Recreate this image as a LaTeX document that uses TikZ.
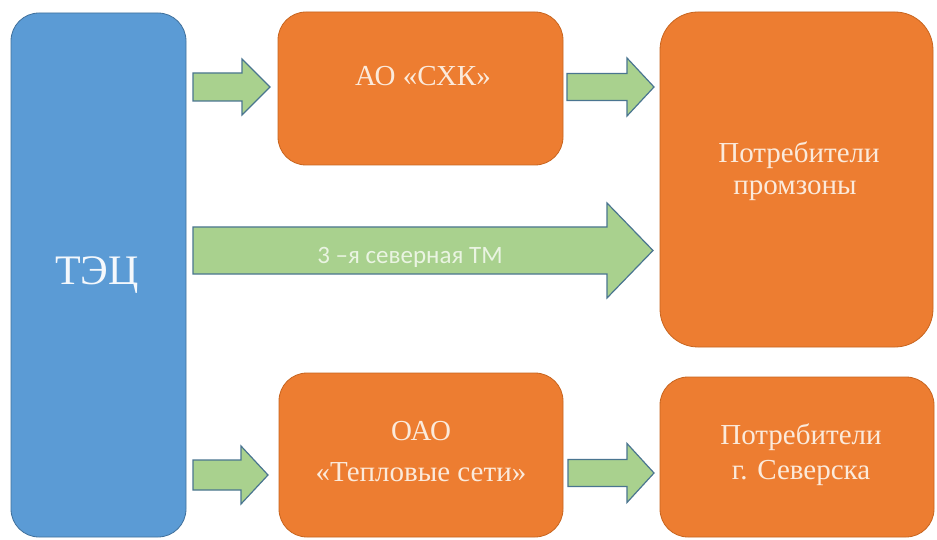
\documentclass[tikz,border=0pt]{standalone}
\usepackage{fontspec}
\setmainfont{Liberation Serif}
\newfontfamily\boxfont{Liberation Serif}
\newfontfamily\arrowfont{Carlito}
\definecolor{bluefill}{HTML}{5B9BD5}
\definecolor{bluedraw}{HTML}{41719C}
\definecolor{orfill}{HTML}{ED7D31}
\definecolor{ordraw}{HTML}{C8651F}
\definecolor{grfill}{HTML}{A9D18E}
\definecolor{grdraw}{HTML}{4A7590}
\definecolor{ortext}{HTML}{FBEADB}
\definecolor{bltext}{HTML}{F4F8FC}
\definecolor{grtext}{HTML}{EAF4E2}
\tikzset{
  boxblue/.style={fill=bluefill, draw=bluedraw, line width=0.8pt},
  boxorange/.style={fill=orfill, draw=ordraw, line width=0.8pt},
  garrowstyle/.style={fill=grfill, draw=grdraw, line width=1.2pt, line join=miter},
  otext/.style={text=ortext, font=\boxfont\fontsize{29}{29}\selectfont, inner sep=0pt, anchor=base},
  btext/.style={text=bltext, font=\boxfont\fontsize{42}{42}\selectfont, inner sep=0pt, anchor=base},
  atext/.style={text=grtext, font=\arrowfont\fontsize{25}{25}\selectfont, inner sep=0pt, anchor=base},
}
% \garrow{name}{x0}{x1}{xtip}{yc}{half shaft}{half head}
\newcommand\garrow[7]{%
  \draw[garrowstyle] (#2,#5-#6) coordinate (#1-start) -- (#3,#5-#6) -- (#3,#5-#7)
    -- (#4,#5) coordinate (#1-tip) -- (#3,#5+#7) -- (#3,#5+#6) -- (#2,#5+#6) -- cycle;}
\begin{document}
\begin{tikzpicture}[x=1pt,y=-1pt]
\useasboundingbox[fill=white] (0,0) rectangle (937,540);
% boxes
\draw[boxblue, rounded corners=28pt] (11,13) rectangle (186,537);
\draw[boxorange, rounded corners=28pt] (278,12) rectangle (563,165);
\draw[boxorange, rounded corners=38pt] (660,12) rectangle (933,347);
\draw[boxorange, rounded corners=28pt] (279,373) rectangle (563,537);
\draw[boxorange, rounded corners=28pt] (660,377) rectangle (934,537);
% texts
\node[btext] (tTEC) at (97,284) {ТЭЦ};
\node[otext] (tSXK) at (423,86) {АО «СХК»};
\node[otext] (tP1a) at (799,163) {Потребители};
\node[otext] (tP1b) at (795,195) {промзоны};
\node[otext] (tO1) at (421,440) {ОАО};
\node[otext] (tO2) at (421,481) {«Тепловые сети»};
\node[otext] (tP2a) at (801,444) {Потребители};
\node[otext] (tP2b) at (801,479) {г. Северска};
% arrows
\garrow{a1}{193}{242}{270}{87}{14}{28}
\garrow{a2}{567}{627}{654}{87}{13.5}{29}
\garrow{a3}{193}{607}{653}{250.5}{23.5}{47.5}
\garrow{a4}{193}{241}{268}{475}{15}{29}
\garrow{a5}{568}{627}{654}{473}{13.5}{29.5}
\node[atext] (tTM) at (410,263) {3 –я северная ТМ};
\end{tikzpicture}
\end{document}
